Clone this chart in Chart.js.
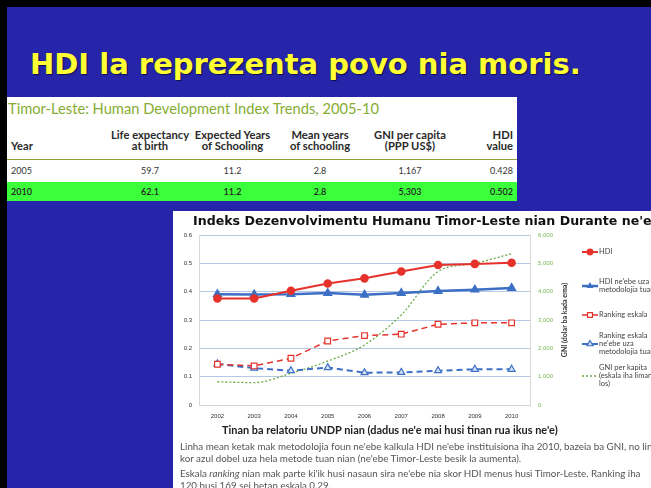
<!DOCTYPE html>
<html>
<head>
<meta charset="utf-8">
<script src="https://cdn.jsdelivr.net/npm/chart.js@4.4.1/dist/chart.umd.min.js"></script>
<style>
  html, body { margin: 0; padding: 0; }
  body { width: 651px; height: 488px; overflow: hidden; position: relative; background: #000; font-family: Lato, sans-serif; }
  #slide { position: absolute; left: 7px; top: 7px; width: 644px; height: 481px; background: #2625aa; }
  #heading { position: absolute; left: 30px; top: 50px; margin: 0; font-family: "DejaVu Sans"; font-weight: bold; font-size: 29px; line-height: 28px; color: #ffff33; text-shadow: 1px 1px 1px #10104a; white-space: nowrap; }
  #tableBox { position: absolute; left: 7px; top: 97px; width: 510px; height: 103px; background: #fff; }
  #tableTitle { position: absolute; left: 1px; top: 2px; font-size: 14.7px; color: #86ad32; white-space: nowrap; }
  table { position: absolute; left: 0; top: 21px; width: 510px; border-collapse: collapse; table-layout: fixed; }
  th, td { padding: 0; font-size: 9px; color: #333; text-align: center; white-space: nowrap; }
  th { font-weight: bold; font-size: 11.2px; line-height: 11px; vertical-align: bottom; height: 41px; padding-bottom: 8px; box-sizing: border-box; border-bottom: 1.5px solid #8ea33c; color: #2a2a2a; }
  td { height: 22px; }
  tr.hl td { background: #3cff3c; height: 19px; font-weight: 600; color: #222; }
  .first { text-align: left; padding-left: 4px; }
  .last { text-align: right; padding-right: 4px; }
  #chartBox { position: absolute; left: 173px; top: 211px; width: 478px; height: 277px; background: #fff; overflow: hidden; }
  #chartTitle { position: absolute; left: 20px; top: 3px; font-family: "DejaVu Sans"; font-weight: bold; font-size: 12.6px; line-height: 14px; color: #111; white-space: nowrap; }
  #hdiChart { position: absolute; left: 0; top: 0; }
  #xTitle { position: absolute; left: 49px; top: 212px; font-weight: bold; font-size: 10.95px; color: #222; white-space: nowrap; }
  .note { position: absolute; left: 7px; font-size: 9.8px; line-height: 11.5px; color: #555; white-space: nowrap; }
</style>
</head>
<body>
<div id="slide"></div>
<h1 id="heading">HDI la reprezenta povo nia moris.</h1>

<div id="tableBox">
  <div id="tableTitle">Timor-Leste: Human Development Index Trends, 2005-10</div>
  <table>
    <colgroup><col style="width:100px"><col style="width:86px"><col style="width:79px"><col style="width:96px"><col style="width:84px"><col style="width:65px"></colgroup>
    <tr><th class="first">Year</th><th>Life expectancy<br>at birth</th><th>Expected Years<br>of Schooling</th><th>Mean years<br>of schooling</th><th>GNI per capita<br>(PPP US$)</th><th class="last">HDI<br>value</th></tr>
    <tr><td class="first">2005</td><td>59.7</td><td>11.2</td><td>2.8</td><td>1,167</td><td class="last">0.428</td></tr>
    <tr class="hl"><td class="first">2010</td><td>62.1</td><td>11.2</td><td>2.8</td><td>5,303</td><td class="last">0.502</td></tr>
  </table>
</div>

<div id="chartBox">
  <canvas id="hdiChart" width="478" height="226"></canvas>
  <div id="chartTitle">Indeks Dezenvolvimentu Humanu Timor-Leste nian Durante ne'e</div>
  <div id="xTitle">Tinan ba relatoriu UNDP nian (dadus ne'e mai husi tinan rua ikus ne'e)</div>
  <div class="note" style="top:230px">Linha mean ketak mak metodolojia foun ne'ebe kalkula HDI ne'ebe instituisiona iha 2010, bazeia ba GNI, no linha<br>kor azul dobel uza hela metode tuan nian (ne'ebe Timor-Leste besik la aumenta).</div>
  <div class="note" style="top:257px">Eskala <i>ranking</i> nian mak parte ki'ik husi nasaun sira ne'ebe nia skor HDI menus husi Timor-Leste. Ranking iha<br>120 husi 169 sei hetan eskala 0.29.</div>
</div>

<script>
// report years on the x axis
const years = ["2002", "2003", "2004", "2005", "2006", "2007", "2008", "2009", "2010"];

// left axis series (HDI scale 0 - 0.6)
const hdi = [0.376, 0.376, 0.403, 0.429, 0.447, 0.471, 0.494, 0.498, 0.502];
const hdiOld = [0.391, 0.390, 0.391, 0.395, 0.389, 0.395, 0.402, 0.407, 0.413];
const rankScale = [0.144, 0.138, 0.165, 0.226, 0.245, 0.250, 0.285, 0.290, 0.290];
const rankScaleOld = [0.145, 0.130, 0.121, 0.132, 0.114, 0.115, 0.121, 0.126, 0.126];

// right axis series (GNI per capita)
const gni = [820, 790, 1120, 1550, 2120, 3180, 4710, 5000, 5340];

// axis ticks
const hdiTicks = { min: 0, max: 0.6, step: 0.1 };
const gniTicks = { min: 0, max: 6000, step: 1000 };

const gniAxisTitle = "GNI (dolar ba kada ema)";

const legendText = [
  ["HDI"],
  ["HDI ne'ebe uza", "metodolojia tuan"],
  ["Ranking eskala"],
  ["Ranking eskala", "ne'ebe uza", "metodolojia tuan"],
  ["GNI per kapita", "(eskala iha liman", "los)"]
];

const red = "#e5322b";
const blue = "#3d6fc4";
const green = "#6aab45";

// legend on the right side plus the rotated GNI axis title
const sideLegend = {
  id: "sideLegend",
  afterDraw(chart) {
    const ctx = chart.ctx;
    const area = chart.chartArea;
    const rowY = [41, 75, 104, 133, 165];

    ctx.save();
    ctx.translate(392, (area.top + area.bottom) / 2);
    ctx.rotate(-Math.PI / 2);
    ctx.font = "bold 7px Lato";
    ctx.fillStyle = "#333";
    ctx.textAlign = "center";
    ctx.textBaseline = "middle";
    ctx.fillText(gniAxisTitle, 0, 0);
    ctx.restore();

    chart.data.datasets.forEach((ds, i) => {
      const y = rowY[i];
      ctx.save();
      ctx.strokeStyle = ds.borderColor;
      ctx.lineWidth = ds.borderWidth;
      ctx.setLineDash(ds.borderDash || []);
      ctx.beginPath();
      ctx.moveTo(409, y);
      ctx.lineTo(425, y);
      ctx.stroke();
      ctx.setLineDash([]);
      if (ds.pointRadius > 0) {
        ctx.fillStyle = ds.pointBackgroundColor;
        ctx.strokeStyle = ds.borderColor;
        ctx.lineWidth = 1.2;
        Chart.helpers.drawPoint(ctx, { pointStyle: ds.pointStyle, radius: ds.pointRadius - 0.5, rotation: 0, borderWidth: 1.2 }, 417, y);
      }
      ctx.font = "7.5px Lato";
      ctx.fillStyle = "#444";
      ctx.textAlign = "left";
      ctx.textBaseline = "middle";
      const lines = legendText[i];
      const y0 = y - (lines.length - 1) * 4;
      lines.forEach((t, k) => ctx.fillText(t, 426, y0 + k * 8));
      ctx.restore();
    });
  }
};

new Chart(document.getElementById("hdiChart"), {
  type: "line",
  data: {
    labels: years,
    datasets: [
      { data: hdi, yAxisID: "y", borderColor: red, borderWidth: 2, pointStyle: "circle", pointRadius: 3.3, pointBackgroundColor: red, pointBorderColor: red },
      { data: hdiOld, yAxisID: "y", borderColor: blue, borderWidth: 2.5, pointStyle: "triangle", pointRadius: 3.3, pointBackgroundColor: blue, pointBorderColor: blue },
      { data: rankScale, yAxisID: "y", borderColor: red, borderWidth: 1.5, borderDash: [6, 4], pointStyle: "rect", pointRadius: 4, pointBackgroundColor: "#fff", pointBorderColor: red, pointBorderWidth: 1.2 },
      { data: rankScaleOld, yAxisID: "y", borderColor: blue, borderWidth: 2, borderDash: [6, 4], pointStyle: "triangle", pointRadius: 4, pointBackgroundColor: "#d6e3f6", pointBorderColor: blue, pointBorderWidth: 1.2 },
      { data: gni, yAxisID: "y1", borderColor: green, borderWidth: 1.3, borderDash: [2, 2], pointRadius: 0, cubicInterpolationMode: "monotone" }
    ]
  },
  options: {
    responsive: false,
    animation: false,
    layout: { padding: { left: 0, right: 81, top: 24, bottom: 0 } },
    plugins: {
      legend: { display: false },
      tooltip: { enabled: false },
      title: { display: false }
    },
    scales: {
      x: {
        offset: true,
        grid: { display: false, drawTicks: false },
        border: { display: false },
        ticks: { color: "#333", font: { size: 6 }, padding: 8, maxRotation: 0 },
        afterFit(s) { s.height = 32; }
      },
      y: {
        min: hdiTicks.min,
        max: hdiTicks.max,
        ticks: { stepSize: hdiTicks.step, color: "#333", font: { size: 6 }, padding: 7 },
        grid: { color: c => c.tick && c.tick.value === 0 ? "#d4d4d4" : "#b4c7e7", drawTicks: false },
        border: { display: true, color: "#d9d9d9" },
        afterFit(s) { s.width = 26; }
      },
      y1: {
        position: "right",
        min: gniTicks.min,
        max: gniTicks.max,
        ticks: { stepSize: gniTicks.step, color: "#78b850", font: { size: 6 }, padding: 8, callback: v => v.toLocaleString("en-US") },
        grid: { drawOnChartArea: false, drawTicks: false },
        border: { display: true, color: "#d9d9d9" },
        afterFit(s) { s.width = 40; }
      }
    }
  },
  plugins: [sideLegend]
});
</script>
</body>
</html>
